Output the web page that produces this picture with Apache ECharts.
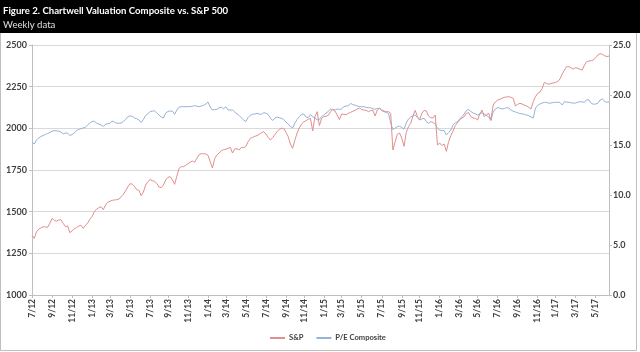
<!DOCTYPE html>
<html><head><meta charset="utf-8">
<script src="https://cdn.jsdelivr.net/npm/echarts@6/dist/echarts.min.js"></script>
<style>html,body{margin:0;padding:0;background:#fff}#c{width:640px;height:352px}</style>
</head><body><div id="c"></div>
<script>
const titleText = 'Figure 2. Chartwell Valuation Composite vs. S&P 500';
const subtitleText = 'Weekly data';
const seriesNames = ['S&P', 'P/E Composite'];
const startDate = [2012, 6, 5]; // first weekly observation (UTC y, m0, d)
const labelStepMonths = 2;

const spx = [1358,1340,1378,1395,1402,1410,1408,1406,1430,1460,
1448,1444,1450,1452,1430,1410,1414,1374,1385,1398,
1404,1414,1418,1400,1418,1432,1455,1472,1500,1515,
1524,1530,1512,1540,1556,1562,1568,1570,1572,1575,
1590,1604,1625,1648,1668,1665,1652,1632,1628,1596,
1618,1660,1680,1692,1686,1682,1670,1648,1644,1660,
1690,1706,1710,1692,1664,1712,1760,1770,1770,1778,
1788,1796,1804,1796,1820,1842,1848,1848,1846,1838,
1800,1762,1818,1840,1852,1866,1872,1874,1880,1886,
1852,1876,1878,1870,1886,1884,1892,1920,1940,1946,
1952,1956,1964,1974,1980,1966,1946,1930,1944,1962,
1980,1994,2000,2000,1976,1950,1906,1880,1930,1972,
2004,2026,2038,2046,2054,2060,1984,2070,2100,2016,
2060,2070,2072,2078,2100,2112,2104,2080,2052,2086,
2084,2082,2090,2096,2102,2108,2116,2122,2112,2110,
2108,2100,2106,2108,2074,2110,2120,2110,2104,2100,
2100,2090,1870,1920,1964,1972,1940,1892,1976,2010,
2030,2076,2108,2070,2052,2090,2108,2104,2074,2064,
2062,2080,1900,1912,1896,1906,1862,1920,1956,1984,
2016,2034,2052,2062,2070,2090,2094,2070,2062,2060,
2050,2086,2110,2070,2082,2090,2050,2140,2158,2170,
2174,2180,2186,2188,2190,2186,2180,2134,2144,2150,
2146,2140,2134,2126,2116,2160,2190,2210,2218,2240,
2276,2268,2264,2270,2272,2276,2282,2296,2326,2350,
2370,2370,2362,2356,2364,2360,2354,2350,2380,2400,
2404,2406,2410,2424,2440,2448,2444,2436,2430,2434];

const pe = [15.3,15.1,15.5,15.7,15.85,15.95,16.05,16.15,16.25,16.38,
16.43,16.42,16.38,16.3,16.1,16.2,16.2,15.95,16.05,16.2,
16.45,16.55,16.65,16.7,16.78,17.0,17.2,17.35,17.38,17.18,
17.1,17.0,16.85,17.08,17.12,17.17,17.4,17.3,17.17,17.17,
17.2,17.33,17.55,17.85,17.9,17.88,17.7,17.63,17.5,17.25,
17.55,17.95,18.12,18.33,18.38,18.43,18.2,18.0,17.8,17.7,
18.2,18.35,18.4,18.4,18.07,18.5,18.78,18.83,18.83,18.82,
18.85,18.83,18.88,18.93,18.88,18.83,18.9,18.97,19.1,19.3,
18.8,18.5,18.55,18.57,18.72,18.78,18.62,18.83,18.5,18.5,
18.5,18.3,18.12,17.95,17.72,17.5,17.35,17.75,17.98,18.07,
18.1,18.17,18.1,18.07,18.23,18.18,18.05,17.7,17.45,17.7,
17.8,17.72,17.67,17.55,17.3,17.1,16.85,16.7,17.2,17.55,
17.85,18.05,18.1,17.8,17.75,18.05,17.8,17.75,17.5,17.55,
17.85,18.0,18.2,18.35,18.6,18.55,18.5,18.6,18.55,18.62,
18.83,18.9,18.92,19.15,19.05,18.98,18.9,18.85,18.82,18.83,
18.75,18.72,18.73,18.62,18.58,18.65,18.67,18.45,18.33,18.25,
18.17,17.2,16.55,16.7,16.83,16.88,16.75,16.57,17.2,17.6,
17.8,17.92,18.0,17.75,17.5,17.6,17.67,17.35,17.17,17.33,
17.25,17.1,16.67,16.5,16.43,16.45,16.0,16.25,16.5,17.0,
17.22,17.33,17.6,17.85,18.1,18.45,18.55,18.35,18.2,18.1,
18.0,18.12,18.23,18.1,17.95,17.8,17.43,18.3,18.6,18.73,
18.68,18.6,18.65,18.72,18.7,18.5,18.38,18.3,18.22,18.15,
18.12,18.07,18.0,17.92,17.8,17.7,18.7,18.97,19.1,19.2,
19.27,19.25,19.18,19.2,19.25,19.27,19.27,19.25,19.0,19.33,
19.3,19.27,19.22,19.18,19.2,19.28,19.33,19.3,19.27,19.55,
19.5,19.17,19.08,19.1,19.17,19.5,19.6,19.38,19.27,19.32];

const leftAxisRange = [1000, 2500, 250];
const rightAxisRange = [0, 25, 5];

// weekly category dates
const DAY = 86400000;
const t0 = Date.UTC(startDate[0], startDate[1], startDate[2]);
const dates = spx.map((_, i) => new Date(t0 + i * 7 * DAY));
const cats = dates.map(d => d.toISOString().slice(0, 10));
const labelIdx = new Set();
for (let k = 0; ; k++) {
  const tgt = Date.UTC(startDate[0], startDate[1] + labelStepMonths * k, startDate[2]);
  const idx = Math.ceil((tgt - t0) / (7 * DAY) - 1e-9);
  if (idx >= cats.length) break;
  labelIdx.add(idx);
}
const showIdx = (i) => labelIdx.has(i);
const fmtDate = (v) => { const d = new Date(v + 'T00:00:00Z'); return (d.getUTCMonth() + 1) + '/' + String(d.getUTCFullYear()).slice(2); };

const FONT = 'Lato, "Liberation Sans", sans-serif';
const chart = echarts.init(document.getElementById('c'), null, {renderer: 'canvas'});
chart.setOption({
  animation: false,
  backgroundColor: '#ffffff',
  graphic: [
    {type: 'rect', left: 0, top: 0, z: -10, shape: {x: 0.5, y: 0.5, width: 636, height: 350}, style: {fill: '#fff', stroke: '#bfbfbf', lineWidth: 1}},
    {type: 'rect', left: 0, top: 0, z: 0, shape: {x: 0, y: 0, width: 640, height: 33}, style: {fill: '#000'}}
  ],
  title: {
    text: titleText, subtext: subtitleText, left: 3, top: 6, itemGap: 4,
    textStyle: {color: '#ffffff', fontFamily: FONT, fontSize: 9.6, fontWeight: 'bold'},
    subtextStyle: {color: '#e0e0e0', fontFamily: FONT, fontSize: 9.6, fontWeight: 'normal'},
    padding: [0, 0, 0, 0], z: 5
  },
  legend: {
    data: seriesNames, left: 265, top: 329, itemWidth: 15, itemHeight: 2, itemGap: 13,
    icon: 'rect',
    textStyle: {color: '#404040', fontFamily: FONT, fontSize: 7.6, fontWeight: 'bold', padding: [0,0,0,-1]}
  },
  grid: {left: 32, right: 31, top: 45, bottom: 57, containLabel: false},
  xAxis: {
    type: 'category', data: cats, boundaryGap: false,
    axisLine: {lineStyle: {color: '#bfbfbf', width: 1}},
    axisTick: {show: true, interval: showIdx, length: 3, lineStyle: {color: '#bfbfbf'}},
    axisLabel: {interval: showIdx, rotate: 90, margin: 4, formatter: fmtDate, color: '#404040', fontFamily: FONT, fontSize: 8.5, fontWeight: 'bold'},
    splitLine: {show: false}
  },
  yAxis: [
    {type: 'value', min: leftAxisRange[0], max: leftAxisRange[1], interval: leftAxisRange[2], position: 'left',
     axisLine: {show: true, lineStyle: {color: '#bfbfbf'}},
     axisTick: {show: true, length: 3, lineStyle: {color: '#bfbfbf'}},
     axisLabel: {margin: 5, color: '#404040', fontFamily: FONT, fontSize: 9, fontWeight: 'bold', formatter: v => String(v)},
     splitLine: {show: true, lineStyle: {color: '#d9d9d9', width: 1}}},
    {type: 'value', min: rightAxisRange[0], max: rightAxisRange[1], interval: rightAxisRange[2], position: 'right',
     axisLine: {show: true, lineStyle: {color: '#bfbfbf'}},
     axisTick: {show: true, length: 3, lineStyle: {color: '#bfbfbf'}},
     axisLabel: {margin: 4, color: '#404040', fontFamily: FONT, fontSize: 9, fontWeight: 'bold', formatter: v => v.toFixed(1)},
     splitLine: {show: false}}
  ],
  series: [
    {name: seriesNames[1], type: 'line', yAxisIndex: 1, data: pe, showSymbol: false, symbol: 'none',
     lineStyle: {color: '#95b3d7', width: 1}, itemStyle: {color: '#95b3d7'}, z: 2},
    {name: seriesNames[0], type: 'line', yAxisIndex: 0, data: spx, showSymbol: false, symbol: 'none',
     lineStyle: {color: '#e0908e', width: 1}, itemStyle: {color: '#e0908e'}, z: 3}
  ]
});
</script></body></html>
